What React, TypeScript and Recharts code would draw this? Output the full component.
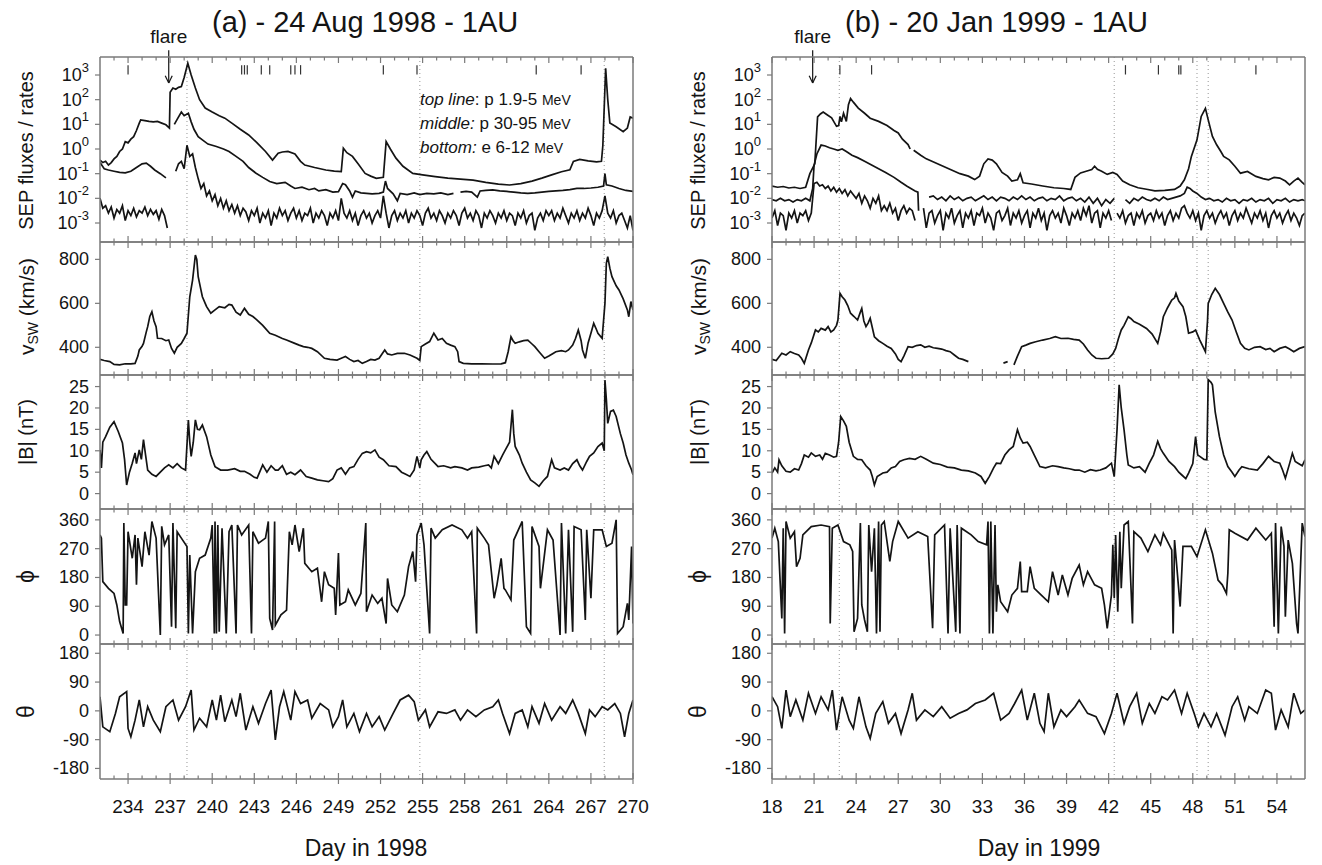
import React from "react";
import { LineChart, Line, XAxis, YAxis, ReferenceLine } from "recharts";

type Pt = [number, number | null];

// ---------- axes ----------
const dayRangeA = [232, 270];
const dayTicksA = [233, 234, 235, 236, 237, 238, 239, 240, 241, 242, 243, 244, 245, 246, 247, 248, 249, 250, 251, 252, 253, 254, 255, 256, 257, 258, 259, 260, 261, 262, 263, 264, 265, 266, 267, 268, 269, 270];
const dayRangeB = [18, 56];
const dayTicksB = [18, 19, 20, 21, 22, 23, 24, 25, 26, 27, 28, 29, 30, 31, 32, 33, 34, 35, 36, 37, 38, 39, 40, 41, 42, 43, 44, 45, 46, 47, 48, 49, 50, 51, 52, 53, 54, 55];

const sepTicks = [-3, -2, -1, 0, 1, 2, 3]; // log10 of flux
const vswTicks = [400, 600, 800];
const bTicks = [0, 5, 10, 15, 20, 25];
const phiTicks = [0, 90, 180, 270, 360];
const thetaTicks = [-180, -90, 0, 90, 180];

const sepDom = [-3.77, 3.73];
const vswDom = [274, 879];
const bDom = [-3.6, 27.7];
const phiDom = [-28, 394];
const thetaDom = [-213, 209];

// event marks, dotted lines, flare times
const shocksA = [234.0, 242.1, 242.3, 242.5, 243.5, 244.1, 245.6, 245.9, 246.3, 252.2, 254.6, 263.1, 266.3];
const shocksB = [22.84, 25.1, 43.2, 45.55, 47.0, 47.15, 52.5];
const dottedA = [238.2, 254.8, 267.95];
const dottedB = [22.8, 42.4, 48.3, 49.1];
const flareA = 236.9;
const flareB = 20.9;

// ---------- (a) 24 Aug 1998 ----------
const pTopA: Pt[] = [[232.0,-0.45],[232.2,-0.55],[232.4,-0.5],[232.6,-0.65],[232.8,-0.55],[233.0,-0.4],[233.2,-0.3],[233.4,-0.1],[233.6,0.0],[233.8,0.3],[234.0,0.25],[234.2,0.4],[234.4,0.5],[234.6,0.75],[234.8,1.05],[234.9,1.18],[235.2,1.15],[235.5,1.12],[235.8,1.1],[236.1,1.12],[236.4,1.05],[236.7,0.98],[236.95,0.85],[237.0,2.3],[237.2,2.47],[237.4,2.42],[237.6,2.5],[237.8,2.53],[238.0,2.9],[238.26,3.48],[238.5,3.0],[238.8,2.47],[239.1,2.0],[239.5,1.66],[240.0,1.5],[240.5,1.35],[240.9,1.25],[241.4,1.05],[242.0,0.8],[242.6,0.57],[243.2,0.25],[243.8,-0.1],[244.3,-0.45],[244.7,-0.17],[245.0,-0.12],[245.4,-0.1],[245.9,-0.2],[246.3,-0.5],[246.6,-0.65],[247.3,-0.75],[248.1,-0.85],[248.7,-0.9],[249.2,-0.92],[249.35,0.03],[249.6,-0.15],[250.0,-0.3],[250.4,-0.6],[250.9,-0.99],[251.3,-1.1],[251.7,-1.19],[252.2,-1.15],[252.4,0.3],[252.7,0.0],[253.1,-0.37],[253.6,-0.7],[254.3,-0.99],[255.0,-1.05],[255.9,-1.12],[256.8,-1.18],[257.7,-1.22],[258.6,-1.26],[259.5,-1.35],[260.4,-1.42],[261.2,-1.46],[262.0,-1.4],[262.8,-1.3],[263.5,-1.18],[264.2,-1.05],[264.9,-0.92],[265.5,-0.84],[265.75,-0.5],[266.2,-0.42],[266.8,-0.48],[267.4,-0.52],[267.75,-0.5],[267.85,0.14],[268.05,3.27],[268.2,2.0],[268.35,1.05],[268.8,0.9],[269.3,0.7],[269.6,0.85],[269.8,1.3],[270.0,1.25]];

const pMidA: Pt[] = [[232.0,-0.55],[232.3,-0.8],[232.6,-0.85],[233.0,-0.9],[233.4,-0.95],[233.8,-0.97],[234.2,-0.9],[234.6,-0.75],[235.0,-0.6],[235.3,-0.57],[235.6,-0.7],[235.9,-0.85],[236.3,-1.0],[236.7,-1.17],[236.8,null],[237.3,1.0],[237.5,1.2],[237.8,1.5],[238.0,1.35],[238.3,1.45],[238.5,1.1],[238.7,0.8],[239.0,0.5],[239.3,0.37],[239.7,0.2],[240.3,0.1],[240.8,0.0],[241.2,-0.1],[241.7,-0.3],[242.2,-0.5],[242.6,-0.75],[243.1,-0.97],[243.6,-1.15],[244.1,-1.32],[244.6,-1.4],[245.2,-1.35],[245.6,-1.5],[245.9,-1.6],[246.4,-1.55],[246.9,-1.65],[247.3,-1.6],[247.6,-1.7],[248.1,-1.65],[248.6,-1.75],[249.0,-1.73],[249.3,-1.4],[249.5,-1.45],[249.8,-1.7],[250.0,-1.95],[250.2,-1.7],[250.6,-1.78],[251.0,-1.8],[251.4,-1.82],[251.9,-1.8],[252.2,-1.75],[252.35,-1.3],[252.5,-1.6],[252.9,-1.82],[253.2,-2.1],[253.4,-1.8],[253.9,-1.85],[254.4,-1.78],[254.8,-1.85],[255.3,-1.8],[255.8,-1.82],[256.3,-1.78],[256.8,-1.85],[257.2,-1.8],[257.4,null],[257.7,-1.75],[258.1,-1.72],[258.5,-1.75],[258.9,-1.95],[259.1,-1.7],[259.5,-1.68],[260.0,-1.66],[260.5,-1.7],[261.0,-1.72],[261.5,-1.75],[262.0,-1.78],[262.5,-1.8],[263.0,-1.78],[263.5,-1.75],[264.0,-1.72],[264.5,-1.7],[265.0,-1.68],[265.5,-1.65],[266.0,-1.6],[266.5,-1.6],[267.0,-1.58],[267.5,-1.55],[267.9,-1.5],[268.0,-1.0],[268.1,-1.45],[268.5,-1.5],[269.0,-1.6],[269.5,-1.68],[270.0,-1.72]];

// e 6-12 MeV, one reading every 0.2 day from day 232.0
const eA_t0 = 232;
const eA_dt = 0.2;
const eA: (number | null)[] = [
  -2.0,-2.4,-2.3,-2.6,-2.35,-2.8,-2.45,-2.6,-2.3,-2.9,
  -2.5,-2.7,-2.4,-2.75,-2.5,-2.6,-2.35,-2.7,-2.45,-2.65,
  -2.5,-2.85,-2.45,-2.7,-3.2,null,null,-0.9,-0.6,-0.5,
  -0.8,0.15,-0.3,-0.2,-0.75,-1.2,-1.6,-1.4,-1.9,-1.7,
  -2.1,-1.85,-2.3,-2.0,-2.4,-2.1,-2.5,-2.25,-2.6,-2.3,
  -2.7,-2.4,-2.55,-2.9,-2.5,-2.7,-2.4,-3.0,-2.6,-2.8,
  -2.5,-3.1,-2.6,-2.8,-2.4,-2.7,-2.5,-2.9,-2.6,-2.4,
  -2.8,-2.5,-2.9,-2.6,-2.7,-2.4,-3.0,-2.6,-2.8,-2.5,
  -2.7,-3.1,-2.6,-2.8,-2.5,-2.9,-2.0,-2.6,-2.8,-2.5,
  -2.9,-2.6,-3.1,-2.7,-2.5,-2.8,-2.6,-3.0,-2.7,-2.5,
  -2.8,-1.9,-2.6,-3.2,-2.7,-2.5,-2.9,-2.6,-2.8,-2.5,
  -3.0,-2.6,-2.8,-2.5,-2.7,-3.1,-2.6,-2.4,-2.8,-2.6,
  -2.9,-2.5,-2.7,-3.0,-2.6,-2.8,-2.5,-2.7,-3.1,-2.6,
  -2.4,-2.8,-2.6,-2.9,-2.5,-2.7,-3.2,-2.6,-2.8,-2.5,
  -2.7,-3.0,-2.6,-2.8,-2.5,-2.9,-2.6,-2.7,-3.1,-2.6,
  -2.8,-2.5,-3.0,-2.7,-2.6,-3.3,-2.8,-2.6,-2.9,-2.5,
  -2.7,-2.5,-2.9,-2.6,-2.8,-2.4,-2.7,-3.0,-2.6,-2.8,
  -2.5,-2.9,-2.6,-2.8,-2.4,-2.7,-3.1,-2.6,-2.8,-2.5,
  -1.9,-2.6,-2.8,-2.5,-3.0,-2.7,-2.6,-2.9,-3.2,-2.7,
  -3.3,
];

const vswA: Pt[] = [[232.0,345],[232.3,340],[232.7,335],[233.0,322],[233.4,320],[233.8,325],[234.2,325],[234.5,327],[234.7,360],[234.8,388],[235.0,405],[235.1,418],[235.3,470],[235.4,494],[235.55,540],[235.7,562],[235.85,520],[236.0,494],[236.1,441],[236.4,440],[236.7,430],[236.9,433],[237.1,395],[237.3,373],[237.5,400],[237.8,418],[238.0,440],[238.2,464],[238.4,630],[238.6,706],[238.8,820],[238.9,800],[239.0,721],[239.2,660],[239.3,630],[239.5,600],[239.6,585],[239.9,555],[240.2,570],[240.5,585],[240.9,580],[241.2,595],[241.4,592],[241.7,560],[242.0,547],[242.3,577],[242.6,550],[242.9,540],[243.2,524],[243.6,500],[244.1,464],[244.5,455],[245.0,440],[245.3,433],[245.8,420],[246.2,410],[246.5,403],[246.8,400],[247.1,395],[247.5,380],[248.0,350],[248.4,345],[248.9,342],[249.2,350],[249.5,358],[249.8,345],[250.1,335],[250.4,340],[250.7,327],[251.0,335],[251.3,345],[251.6,342],[251.9,350],[252.3,388],[252.5,370],[252.8,365],[253.2,372],[253.7,373],[254.1,365],[254.6,350],[254.8,340],[254.9,403],[255.2,415],[255.5,426],[255.8,464],[256.1,433],[256.4,440],[256.7,418],[257.0,410],[257.3,403],[257.5,380],[257.6,335],[257.9,327],[258.5,325],[259.2,325],[260.0,324],[260.6,325],[260.9,330],[261.1,380],[261.3,448],[261.45,430],[261.6,418],[261.9,425],[262.2,430],[262.5,433],[262.8,415],[263.0,403],[263.3,380],[263.7,350],[264.0,360],[264.3,372],[264.5,380],[264.9,385],[265.2,380],[265.4,388],[265.7,410],[265.9,440],[266.1,479],[266.3,430],[266.4,388],[266.6,350],[266.8,420],[267.0,464],[267.2,509],[267.4,480],[267.5,464],[267.8,441],[268.0,600],[268.1,782],[268.2,812],[268.35,760],[268.5,721],[268.8,680],[269.0,661],[269.3,620],[269.6,570],[269.7,539],[269.85,608],[270.0,570]];

const bA: Pt[] = [[232.0,10.2],[232.1,6.0],[232.2,12.0],[232.4,13.3],[232.7,15.5],[233.0,16.8],[233.3,14.5],[233.6,11.8],[233.75,8.0],[233.9,2.0],[234.1,5.0],[234.3,7.1],[234.5,9.5],[234.6,7.0],[234.8,10.2],[234.95,8.0],[235.1,12.6],[235.25,9.0],[235.4,5.5],[235.7,4.5],[236.0,4.0],[236.3,5.0],[236.6,6.0],[236.9,6.7],[237.2,6.0],[237.5,7.0],[237.8,6.0],[238.1,5.5],[238.3,17.2],[238.4,12.0],[238.5,8.7],[238.65,12.0],[238.8,17.2],[238.95,15.0],[239.1,14.9],[239.3,16.0],[239.6,13.3],[239.9,9.0],[240.2,6.3],[240.6,5.5],[241.1,5.5],[241.6,5.8],[242.0,5.2],[242.3,5.2],[242.7,4.5],[243.0,3.8],[243.2,3.6],[243.6,6.7],[243.9,5.0],[244.2,6.5],[244.5,5.5],[244.7,5.5],[245.0,6.5],[245.3,4.5],[245.6,5.0],[245.9,4.4],[246.3,5.5],[246.7,4.0],[247.1,3.6],[247.5,3.2],[247.9,3.0],[248.3,2.8],[248.6,3.5],[248.9,5.5],[249.2,6.0],[249.5,4.5],[249.8,6.0],[250.1,6.3],[250.4,8.0],[250.7,9.4],[251.0,9.8],[251.3,9.5],[251.6,10.2],[251.9,8.5],[252.2,7.9],[252.6,6.5],[253.1,6.3],[253.5,5.0],[253.8,4.5],[254.1,4.0],[254.4,5.5],[254.6,8.7],[254.8,6.0],[254.9,7.9],[255.1,9.0],[255.3,9.8],[255.6,8.0],[255.9,7.0],[256.1,6.3],[256.5,6.5],[257.0,6.0],[257.3,6.3],[257.8,6.0],[258.2,5.5],[258.5,6.0],[259.0,6.2],[259.4,6.5],[259.7,6.7],[259.9,6.0],[260.1,8.7],[260.4,7.0],[260.7,9.0],[260.9,10.2],[261.2,12.0],[261.4,19.6],[261.5,14.0],[261.6,11.0],[261.9,9.0],[262.1,7.1],[262.4,5.0],[262.7,3.2],[263.0,2.5],[263.3,1.7],[263.6,3.0],[263.9,4.0],[264.2,7.9],[264.4,6.0],[264.8,5.5],[265.1,6.0],[265.4,5.5],[265.7,7.0],[266.0,7.9],[266.2,6.5],[266.4,5.5],[266.7,7.5],[266.9,8.7],[267.2,9.5],[267.5,11.0],[267.8,11.8],[267.95,10.0],[268.0,26.5],[268.1,22.0],[268.2,16.4],[268.4,19.2],[268.6,19.5],[268.8,18.0],[269.1,14.0],[269.3,11.8],[269.5,9.0],[269.7,7.1],[269.9,5.5],[270.0,4.4]];

const phiA: Pt[] = [[232.0,313],[232.1,303],[232.2,167],[232.6,146],[233.0,130],[233.2,94],[233.4,42],[233.65,5],[233.7,350],[233.8,94],[233.9,94],[234.0,323],[234.3,240],[234.5,313],[234.6,157],[234.7,303],[235.0,214],[235.2,323],[235.5,250],[235.7,355],[236.0,303],[236.3,0],[236.4,340],[236.6,282],[236.9,313],[237.1,26],[237.2,350],[237.4,21],[237.5,323],[237.8,303],[238.2,277],[238.3,5],[238.4,250],[238.6,5],[238.8,198],[239.1,240],[239.5,250],[239.9,303],[240.0,344],[240.15,5],[240.2,355],[240.3,5],[240.4,344],[240.5,10],[240.7,334],[241.0,5],[241.2,323],[241.4,344],[241.7,5],[241.8,344],[242.1,313],[242.6,344],[242.8,5],[242.9,323],[243.3,287],[243.8,303],[244.0,355],[244.1,52],[244.3,16],[244.45,355],[244.5,31],[244.9,63],[245.3,78],[245.5,323],[245.7,282],[245.9,344],[246.2,261],[246.5,334],[246.6,224],[247.1,198],[247.5,209],[247.8,104],[248.0,198],[248.3,157],[248.7,146],[248.8,63],[249.0,256],[249.1,94],[249.5,104],[249.7,141],[250.2,94],[250.6,130],[250.95,350],[251.0,73],[251.4,125],[251.8,99],[252.1,115],[252.4,36],[252.5,177],[252.8,94],[253.2,73],[253.7,125],[254.0,214],[254.3,261],[254.5,167],[254.6,313],[254.9,350],[255.1,282],[255.5,5],[255.6,334],[255.9,303],[256.4,329],[257.1,344],[257.8,329],[258.2,303],[258.5,323],[258.85,5],[258.9,334],[259.4,303],[259.7,282],[260.1,115],[260.3,157],[260.6,240],[260.8,146],[260.9,141],[261.3,110],[261.5,297],[262.1,355],[262.4,26],[262.7,5],[262.8,339],[263.3,277],[263.4,146],[263.9,329],[264.3,297],[264.8,0],[264.9,350],[265.2,5],[265.4,329],[265.7,10],[265.8,339],[266.3,329],[266.6,47],[266.7,329],[267.0,115],[267.2,329],[267.8,329],[268.1,277],[268.5,287],[268.8,360],[268.9,5],[269.3,26],[269.6,99],[269.7,47],[269.9,277],[270.0,36]];

const thetaA: Pt[] = [[232.0,44],[232.2,-50],[232.7,-65],[233.1,-8],[233.4,44],[233.9,60],[234.0,-55],[234.2,-81],[234.5,-29],[234.8,34],[235.1,-50],[235.4,13],[235.8,-29],[236.3,-65],[236.7,13],[237.2,34],[237.6,-29],[238.1,13],[238.5,65],[238.7,-60],[239.1,-23],[239.6,-50],[240.0,34],[240.3,-29],[240.6,49],[240.9,-34],[241.4,34],[241.7,-18],[242.0,55],[242.4,-60],[242.9,13],[243.3,-39],[243.8,23],[244.2,65],[244.5,-91],[244.8,13],[245.1,60],[245.6,-29],[245.9,60],[246.3,23],[246.8,34],[247.1,-23],[247.7,23],[248.3,3],[248.6,-50],[249.0,-18],[249.3,34],[249.6,-50],[250.1,-8],[250.5,-65],[251.0,-8],[251.4,-50],[251.9,-18],[252.3,-60],[252.9,-8],[253.4,34],[254.0,49],[254.4,29],[254.7,-29],[255.2,3],[255.5,-50],[256.1,-3],[256.7,-8],[257.3,3],[257.7,-29],[258.2,3],[258.8,-18],[259.4,3],[260.0,13],[260.4,34],[260.7,-8],[261.2,-71],[261.6,-8],[262.1,3],[262.5,-50],[262.8,13],[263.3,-39],[263.7,23],[264.2,-29],[264.8,13],[265.2,-8],[265.7,34],[266.1,-8],[266.6,-71],[266.9,3],[267.3,-18],[267.8,13],[268.2,3],[268.7,23],[269.1,-8],[269.4,-81],[269.7,-8],[270.0,34]];

// ---------- (b) 20 Jan 1999 ----------
const pTopB: Pt[] = [[18.0,-1.5],[18.4,-1.55],[18.8,-1.52],[19.2,-1.58],[19.6,-1.55],[20.0,-1.6],[20.4,-1.55],[20.7,-1.0],[21.05,-0.6],[21.25,1.3],[21.45,1.42],[21.65,1.5],[21.9,1.4],[22.25,1.26],[22.6,0.92],[22.75,0.95],[22.85,1.32],[22.95,1.1],[23.1,1.45],[23.3,1.12],[23.45,1.8],[23.6,2.05],[23.8,1.9],[24.15,1.66],[24.6,1.45],[25.0,1.25],[25.6,1.12],[26.2,0.95],[26.7,0.75],[27.0,0.65],[27.3,0.4],[27.7,0.18],[27.85,0.0],[27.95,null],[28.1,-0.05],[28.6,-0.25],[29.0,-0.4],[29.4,-0.5],[30.0,-0.65],[30.8,-0.85],[31.4,-1.0],[32.0,-1.1],[32.45,-1.24],[32.8,-1.1],[33.1,-0.6],[33.4,-0.4],[33.7,-0.45],[34.0,-0.6],[34.4,-0.95],[34.8,-1.1],[35.1,-1.3],[35.5,-1.25],[35.7,-1.0],[35.9,-1.37],[36.5,-1.42],[37.3,-1.5],[38.1,-1.57],[38.8,-1.6],[39.3,-1.64],[39.6,-1.15],[40.0,-0.97],[40.4,-0.9],[40.8,-0.83],[41.0,-0.7],[41.2,-0.82],[41.5,-0.9],[41.9,-1.03],[42.3,-0.95],[42.6,-1.03],[43.0,-1.3],[43.5,-1.45],[44.1,-1.57],[44.7,-1.63],[45.3,-1.7],[46.0,-1.68],[46.7,-1.64],[47.1,-1.5],[47.4,-1.25],[47.7,-0.8],[47.9,-0.3],[48.3,0.37],[48.6,1.32],[48.9,1.65],[49.1,1.18],[49.4,0.51],[49.7,0.17],[50.0,-0.1],[50.2,-0.3],[50.6,-0.44],[51.0,-0.7],[51.4,-0.98],[51.9,-0.91],[52.5,-1.11],[53.0,-1.2],[53.4,-1.25],[53.8,-1.15],[54.2,-1.18],[54.6,-1.3],[54.9,-1.45],[55.2,-1.3],[55.5,-1.18],[55.8,-1.35],[56.0,-1.45]];

const pMidB: Pt[] = [[18.0,-2.05],[18.3,-2.1],[18.6,-2.0],[18.9,-2.1],[19.2,-2.05],[19.5,-2.15],[19.8,-2.05],[20.1,-2.1],[20.4,-2.0],[20.7,-2.1],[20.9,-1.6],[21.0,-0.65],[21.2,-0.2],[21.5,0.16],[21.8,0.12],[22.1,0.05],[22.4,0.0],[22.7,-0.05],[23.0,0.0],[23.3,-0.1],[23.7,-0.25],[24.1,-0.35],[24.6,-0.5],[25.1,-0.65],[25.6,-0.8],[26.1,-0.95],[26.7,-1.15],[27.2,-1.35],[27.6,-1.5],[27.9,-1.6],[28.2,-1.7],[28.4,-1.75],[28.45,-2.5],[28.5,null],[29.2,-1.95],[29.5,-1.9],[29.8,-2.05],[30.1,-1.95],[30.4,-2.1],[30.7,-1.9],[31.0,-2.05],[31.3,-1.95],[31.6,-2.1],[31.9,-2.0],[32.2,-1.95],[32.5,-2.1],[32.8,-2.0],[33.1,-1.9],[33.4,-2.05],[33.7,-1.95],[34.0,-2.1],[34.3,-1.95],[34.6,-2.0],[34.9,-2.1],[35.2,-1.95],[35.5,-2.05],[35.8,-1.9],[36.1,-2.05],[36.4,-1.95],[36.7,-2.1],[37.0,-2.0],[37.3,-1.95],[37.6,-2.1],[37.9,-2.0],[38.2,-2.05],[38.5,-1.9],[38.8,-2.1],[39.1,-2.0],[39.4,-1.95],[39.7,-2.1],[40.0,-2.0],[40.3,-2.15],[40.6,-1.95],[40.9,-2.2],[41.2,-2.0],[41.5,-2.3],[41.8,-2.05],[42.1,-2.2],[42.4,-2.0],[42.6,null],[43.2,-2.05],[43.5,-2.2],[43.8,-2.0],[44.1,-2.1],[44.4,-1.95],[44.7,-2.05],[45.0,-2.1],[45.3,-2.0],[45.6,-2.1],[45.9,-1.95],[46.2,-2.05],[46.5,-2.0],[46.8,-1.95],[47.1,-1.9],[47.4,-1.8],[47.6,-1.55],[47.8,-1.6],[48.0,-1.7],[48.3,-1.8],[48.6,-1.95],[48.9,-2.05],[49.2,-2.0],[49.5,-2.1],[49.8,-2.05],[50.1,-2.15],[50.4,-2.0],[50.7,-2.1],[51.0,-2.05],[51.3,-2.2],[51.6,-2.05],[51.9,-2.1],[52.2,-2.0],[52.5,-2.15],[52.8,-2.05],[53.1,-2.1],[53.4,-2.0],[53.7,-2.2],[54.0,-2.05],[54.3,-2.1],[54.6,-2.0],[54.9,-2.15],[55.2,-2.05],[55.5,-2.1],[55.8,-2.05],[56.0,-2.1]];

// e 6-12 MeV, one reading every 0.2 day from day 18.0
const eB_t0 = 18;
const eB_dt = 0.2;
const eB: (number | null)[] = [
  -2.8,-2.5,-3.1,-2.6,-2.7,-3.3,-2.6,-2.8,-2.5,-3.0,
  -2.6,-2.7,-2.5,-2.9,-2.6,-1.4,-1.35,-1.5,-1.45,-1.6,
  -1.5,-1.7,-1.55,-1.75,-1.6,-1.8,-1.65,-1.9,-1.7,-1.85,
  -2.0,-1.8,-2.2,-1.9,-2.1,-2.4,-2.0,-2.2,-1.9,-2.5,
  -2.3,-2.5,-2.2,-2.6,-2.4,-2.9,-2.5,-2.3,-2.6,-2.4,
  -2.5,-2.9,null,null,-2.4,-3.2,-2.6,-2.5,-3.0,-2.7,
  -2.5,-3.3,-2.6,-2.8,-2.4,-3.0,-2.7,-2.5,-3.2,-2.6,
  -2.8,-2.5,-3.1,-2.6,-2.7,-2.4,-3.0,-2.6,-2.8,-3.3,
  -2.6,-2.5,-2.9,-2.7,-2.4,-3.1,-2.6,-2.8,-2.5,-3.0,
  -2.7,-2.5,-3.2,-2.6,-2.8,-2.4,-2.9,-2.6,-3.3,-2.7,
  -2.5,-2.8,-2.6,-3.0,-2.4,-2.7,-3.1,-2.6,-2.8,-2.5,
  -2.9,-2.4,-2.7,-2.3,-3.0,-2.6,-2.5,-3.2,-2.6,-2.8,
  -2.5,-2.9,null,-2.6,-2.8,-2.5,-3.0,-2.7,-2.6,-3.1,
  -2.6,-2.8,-2.5,-3.0,-2.7,-2.6,-2.9,-2.5,-2.8,-2.6,
  -3.1,-2.7,-2.5,-2.9,-2.6,-2.8,-2.4,-2.3,-2.6,-2.8,
  -2.5,-2.9,-2.6,-3.3,-2.7,-2.5,-2.8,-2.6,-3.0,-2.7,
  -2.5,-2.8,-2.6,-3.1,-2.7,-2.5,-2.9,-2.6,-2.8,-2.4,
  -2.7,-3.0,-2.6,-2.8,-2.5,-2.9,-2.6,-3.2,-2.7,-2.5,
  -2.8,-2.6,-3.0,-2.7,-2.5,-2.9,-2.6,-2.8,-3.1,-2.7,
  -2.6,
];

const vswB: Pt[] = [[18.0,345],[18.3,340],[18.7,373],[19.0,365],[19.3,380],[19.6,372],[19.9,365],[20.1,350],[20.3,327],[20.6,388],[20.8,420],[21.1,479],[21.3,470],[21.5,486],[21.8,478],[22.0,494],[22.2,470],[22.4,479],[22.6,500],[22.7,524],[22.85,645],[23.0,630],[23.2,615],[23.4,590],[23.6,555],[23.85,540],[24.1,524],[24.3,560],[24.4,577],[24.55,520],[24.7,494],[24.85,510],[25.0,532],[25.15,490],[25.3,448],[25.6,430],[25.9,418],[26.2,405],[26.5,395],[26.8,370],[27.0,345],[27.2,335],[27.4,360],[27.7,403],[28.0,400],[28.3,408],[28.6,411],[28.9,400],[29.2,405],[29.5,398],[29.8,395],[30.1,392],[30.4,385],[30.7,380],[31.0,365],[31.3,350],[31.6,345],[32.0,335],[32.05,null],[34.5,328],[34.8,335],[34.95,null],[35.25,320],[35.5,360],[35.8,403],[36.1,410],[36.4,418],[36.8,425],[37.3,433],[37.8,440],[38.2,448],[38.6,440],[39.1,441],[39.5,436],[39.9,433],[40.2,415],[40.5,388],[40.8,365],[41.1,350],[41.5,348],[42.0,350],[42.3,370],[42.5,395],[42.7,440],[42.9,479],[43.1,500],[43.4,539],[43.6,530],[43.8,517],[44.2,505],[44.7,486],[45.1,460],[45.5,418],[45.7,470],[45.9,539],[46.2,580],[46.5,615],[46.7,625],[46.8,645],[47.0,610],[47.3,585],[47.5,540],[47.7,464],[48.0,470],[48.2,479],[48.5,433],[48.9,380],[49.05,520],[49.1,600],[49.35,640],[49.6,668],[49.9,640],[50.2,600],[50.5,560],[50.8,524],[51.1,470],[51.4,418],[51.7,395],[52.0,388],[52.4,400],[52.8,403],[53.2,390],[53.5,395],[53.8,380],[54.2,395],[54.6,403],[54.9,392],[55.2,380],[55.6,395],[56.0,403]];

const bB: Pt[] = [[18.0,4.8],[18.2,6.0],[18.4,5.0],[18.5,7.9],[18.7,6.5],[19.0,5.2],[19.3,5.0],[19.6,5.8],[19.9,5.5],[20.1,7.0],[20.3,9.0],[20.6,8.5],[20.8,9.5],[21.1,8.7],[21.4,9.0],[21.6,8.0],[21.8,9.4],[22.1,9.0],[22.4,8.5],[22.6,8.7],[22.75,12.0],[22.9,18.0],[23.1,17.0],[23.3,15.7],[23.5,12.0],[23.8,8.7],[24.1,8.0],[24.4,7.9],[24.7,6.5],[25.0,5.5],[25.15,4.0],[25.3,2.0],[25.5,4.0],[25.9,4.8],[26.2,5.0],[26.5,6.0],[26.8,6.3],[27.1,7.5],[27.4,7.9],[27.8,8.2],[28.2,8.0],[28.6,8.7],[29.0,8.0],[29.5,7.1],[30.0,6.8],[30.5,6.2],[31.0,6.0],[31.5,5.5],[32.0,5.3],[32.5,4.8],[32.9,4.0],[33.2,2.4],[33.5,4.0],[33.8,6.0],[34.0,7.1],[34.3,7.0],[34.6,9.0],[34.9,10.2],[35.2,11.0],[35.5,14.9],[35.7,13.0],[35.9,11.8],[36.2,12.0],[36.4,11.0],[36.7,9.0],[37.1,6.3],[37.5,6.0],[38.0,6.5],[38.4,6.3],[38.8,6.0],[39.2,5.8],[39.6,5.5],[39.9,5.5],[40.3,5.0],[40.7,5.6],[41.1,5.3],[41.4,5.5],[41.8,6.0],[42.2,7.1],[42.4,4.0],[42.6,15.0],[42.75,25.4],[42.9,20.0],[43.1,14.9],[43.3,9.0],[43.4,6.7],[43.8,6.0],[44.2,6.3],[44.6,5.0],[44.9,7.1],[45.2,9.0],[45.5,12.2],[45.7,10.5],[45.9,9.4],[46.3,7.5],[46.7,6.3],[47.0,5.0],[47.2,4.4],[47.5,3.5],[47.7,4.8],[48.0,7.0],[48.2,13.3],[48.35,9.0],[48.5,8.7],[48.8,8.0],[49.0,7.9],[49.1,26.6],[49.3,26.0],[49.4,25.4],[49.6,19.0],[49.9,13.3],[50.2,9.0],[50.5,6.3],[50.8,5.0],[51.0,4.0],[51.3,5.5],[51.5,6.3],[52.0,5.8],[52.6,5.5],[53.0,7.0],[53.4,8.7],[53.8,7.5],[54.2,7.1],[54.4,5.5],[54.6,3.6],[54.9,7.0],[55.1,9.4],[55.3,7.5],[55.5,7.1],[55.8,6.5],[56.0,7.9]];

const phiB: Pt[] = [[18.0,303],[18.2,334],[18.45,292],[18.7,52],[18.8,334],[18.9,5],[19.0,355],[19.3,303],[19.6,323],[19.75,214],[20.0,240],[20.2,313],[20.8,339],[21.5,344],[22.1,339],[22.15,36],[22.3,334],[22.7,344],[23.1,292],[23.55,282],[23.75,261],[23.85,10],[24.1,52],[24.3,350],[24.4,94],[24.6,47],[24.8,10],[24.9,344],[25.1,198],[25.3,334],[25.45,5],[25.6,355],[25.7,10],[25.8,344],[26.0,355],[26.3,261],[26.4,230],[26.6,292],[27.0,355],[27.7,303],[28.4,323],[29.1,308],[29.45,21],[29.6,313],[30.3,344],[30.55,5],[30.7,334],[31.1,10],[31.2,344],[31.4,5],[31.5,334],[32.2,313],[32.7,292],[33.3,282],[33.4,355],[33.5,5],[33.6,355],[33.75,5],[33.9,344],[34.0,73],[34.1,157],[34.3,104],[34.8,73],[35.1,125],[35.5,146],[35.7,230],[35.8,136],[36.2,136],[36.4,214],[36.7,146],[37.2,125],[37.7,104],[38.0,198],[38.4,125],[38.7,188],[39.1,125],[39.4,177],[39.9,219],[40.2,157],[40.5,198],[41.0,157],[41.5,146],[41.7,94],[41.9,21],[42.2,125],[42.3,282],[42.4,115],[42.5,313],[42.65,73],[42.8,323],[42.9,146],[43.1,344],[43.4,355],[43.7,36],[43.8,323],[44.3,303],[44.8,261],[45.3,313],[45.7,282],[45.9,318],[46.5,266],[46.6,5],[46.7,297],[47.1,89],[47.3,277],[47.9,277],[48.3,245],[48.9,329],[49.4,256],[49.8,172],[50.1,157],[50.4,130],[50.5,193],[50.6,329],[51.0,318],[51.9,297],[52.5,334],[53.2,297],[53.6,318],[53.8,26],[53.9,350],[54.1,5],[54.3,339],[54.5,277],[54.6,57],[54.8,297],[55.1,224],[55.4,36],[55.5,5],[55.8,350],[56.0,308]];

const thetaB: Pt[] = [[18.0,44],[18.4,13],[18.7,-55],[19.0,65],[19.3,-18],[19.7,34],[20.2,-29],[20.6,55],[21.1,-8],[21.5,44],[22.0,3],[22.3,65],[22.6,-60],[23.0,44],[23.5,-29],[23.8,-55],[24.2,44],[24.7,-50],[25.0,-86],[25.4,-8],[25.9,29],[26.3,-39],[26.8,-8],[27.2,-71],[27.7,3],[28.0,55],[28.3,-29],[28.9,3],[29.5,-18],[30.1,13],[30.7,-23],[31.3,-8],[31.9,3],[32.5,23],[33.2,34],[33.8,55],[34.3,-29],[34.9,-8],[35.3,23],[35.8,65],[36.2,-29],[36.7,55],[37.1,-39],[37.4,-65],[37.7,55],[38.1,-50],[38.6,3],[39.0,-18],[39.6,13],[39.9,34],[40.5,-8],[41.1,-18],[41.7,-71],[42.2,-8],[42.6,55],[43.1,-39],[43.5,13],[44.0,55],[44.4,-39],[44.9,23],[45.3,-8],[45.8,44],[46.2,34],[46.7,65],[47.2,-8],[47.6,55],[48.1,-8],[48.4,-50],[48.8,-8],[49.3,-50],[49.7,-8],[50.3,-76],[50.8,13],[51.2,44],[51.7,-29],[52.0,13],[52.6,-8],[53.2,65],[53.6,55],[53.9,-60],[54.3,3],[54.8,-50],[55.2,55],[55.7,-8],[56.0,3]];

// ---------- drawing ----------
const INK = "#141414";
const FRAME = "#7a7a7a";
const FONT = "'Liberation Sans', Arial, Helvetica, sans-serif";
const Y_W = 100;
const PLOT_W = 533;
const RIGHT_M = 20;
const CHART_W = Y_W + PLOT_W + RIGHT_M;
const TICK_FS = 18;
const frameLine = { stroke: FRAME, strokeWidth: 1.5 };

const pairs = (a: Pt[]) => a.map(([d, v]) => ({ d, v }));
const stepped = (t0: number, dt: number, vals: (number | null)[]) => vals.map((v, i) => ({ d: t0 + i * dt, v }));

const numTick = (p: any) => (
  <text x={p.x} y={p.y} textAnchor="end" dominantBaseline="central" fontSize={TICK_FS} fill={INK} fontFamily={FONT}>
    {p.payload.value}
  </text>
);
const logTick = (p: any) => (
  <text x={p.x} y={p.y} textAnchor="end" dominantBaseline="central" fontSize={TICK_FS} fill={INK} fontFamily={FONT}>
    10<tspan fontSize={13} dy={-8}>{p.payload.value}</tspan>
  </text>
);

const rotText = (cx: number, cy: number, size: number, body: React.ReactNode) => (
  <text x={cx} y={cy} transform={`rotate(-90 ${cx} ${cy})`} textAnchor="middle" dominantBaseline="central" fontSize={size} fill={INK} fontFamily={FONT}>
    {body}
  </text>
);

type LabelFn = (cx: number, cy: number) => React.ReactElement;
const sepLabel: LabelFn = (cx, cy) => rotText(cx, cy, 20, "SEP fluxes / rates");
const vswLabel: LabelFn = (cx, cy) =>
  rotText(cx, cy, 21, [
    <tspan key="v">v</tspan>,
    <tspan key="s" fontSize={14} dy={7}>SW</tspan>,
    <tspan key="u" dy={-7}>{"  (km/s)"}</tspan>,
  ]);
const bLabel: LabelFn = (cx, cy) => rotText(cx, cy, 20, "|B|  (nT)");
const phiLabel: LabelFn = (cx, cy) => rotText(cx, cy, 23, "ϕ");
const thetaLabel: LabelFn = (cx, cy) => rotText(cx, cy, 23, "θ");

type Series = { d: number; v: number | null }[];

type PanelProps = {
  left: number;
  top: number;
  plotH: number;
  padTop?: number;
  xDom: number[];
  xTicks: number[];
  base: number;
  yDom: number[];
  yTicks: number[];
  yTick: (p: any) => React.ReactElement;
  label: LabelFn;
  labelDx: number;
  labelDy: number;
  series: Series[];
  dotted: number[];
  extras?: React.ReactNode[];
  last?: boolean;
};

function Panel(p: PanelProps) {
  const padTop = p.padTop || 0;
  const padBottom = p.last ? 60 : 0;
  const bottomTick = (t: any) => {
    const v = t.payload.value;
    const major = (v - p.base) % 3 === 0;
    return (
      <g>
        <line x1={t.x} x2={t.x} y1={t.y} y2={t.y - (major ? 6 : 3.5)} stroke={FRAME} strokeWidth={1.2} />
        {p.last && major && <line x1={t.x} x2={t.x} y1={t.y} y2={t.y + 5} stroke={FRAME} strokeWidth={1.2} />}
        {p.last && major && (
          <text x={t.x} y={t.y + 27} textAnchor="middle" dominantBaseline="central" fontSize={19} fill={INK} fontFamily={FONT}>
            {v}
          </text>
        )}
      </g>
    );
  };
  const topTick = (t: any) => {
    const major = (t.payload.value - p.base) % 3 === 0;
    return <line x1={t.x} x2={t.x} y1={t.y} y2={t.y + (major ? 6 : 3.5)} stroke={FRAME} strokeWidth={1.2} />;
  };
  return (
    <div style={{ position: "absolute", left: p.left, top: p.top - padTop }}>
      <LineChart width={CHART_W} height={p.plotH + padTop + padBottom} margin={{ top: padTop, right: RIGHT_M, bottom: padBottom, left: 0 }}>
        <XAxis xAxisId="x" type="number" dataKey="d" domain={p.xDom} allowDataOverflow ticks={p.xTicks} interval={0}
          orientation="bottom" mirror height={0.01} tickSize={0} tickMargin={0} tickLine={false}
          axisLine={frameLine} tick={bottomTick} />
        <XAxis xAxisId="xt" type="number" dataKey="d" domain={p.xDom} allowDataOverflow ticks={p.xTicks} interval={0}
          orientation="top" mirror height={0.01} tickSize={0} tickMargin={0} tickLine={false}
          axisLine={frameLine} tick={topTick} />
        <YAxis yAxisId="y" type="number" domain={p.yDom} allowDataOverflow ticks={p.yTicks} interval={0} width={Y_W}
          tickSize={5} tickMargin={6} axisLine={frameLine} tickLine={{ stroke: FRAME, strokeWidth: 1.2 }} tick={p.yTick}
          label={{
            content: (lp: any) => {
              const vb = lp && lp.viewBox ? lp.viewBox : { x: 0, y: padTop, width: Y_W, height: p.plotH };
              return p.label((vb.x || 0) + p.labelDx, vb.y + vb.height / 2 + p.labelDy);
            },
          }} />
        <YAxis yAxisId="yr" type="number" orientation="right" mirror width={0.01} domain={p.yDom} allowDataOverflow
          tick={false} tickLine={false} axisLine={frameLine} />
        {p.dotted.map((d) => (
          <ReferenceLine key={`dot-${d}`} xAxisId="x" yAxisId="y" x={d} stroke="#a8a8a8" strokeWidth={1.2} strokeDasharray="1 3" />
        ))}
        {p.extras}
        {p.series.map((s, i) => (
          <Line key={i} xAxisId="x" yAxisId="y" data={s} dataKey="v" type="linear" stroke={INK} strokeWidth={1.7}
            dot={false} activeDot={false} connectNulls={false} isAnimationActive={false} />
        ))}
      </LineChart>
    </div>
  );
}

const sepExtras = (shocks: number[], flare: number) => [
  ...shocks.map((d) => (
    <ReferenceLine key={`sh-${d}`} xAxisId="x" yAxisId="y" segment={[{ x: d, y: 3.02 }, { x: d, y: 3.4 }]} stroke="#333" strokeWidth={1.2} />
  )),
  <ReferenceLine key="fl" xAxisId="x" yAxisId="y" segment={[{ x: flare, y: 4.0 }, { x: flare, y: 2.68 }]} ifOverflow="visible"
    stroke={INK} strokeWidth={1.2}
    label={{ value: "flare", position: "top", offset: 7, fontSize: 19, fill: INK, fontFamily: FONT }} />,
  <ReferenceLine key="fl-l" xAxisId="x" yAxisId="y" segment={[{ x: flare - 0.25, y: 2.97 }, { x: flare, y: 2.68 }]} ifOverflow="visible" stroke={INK} strokeWidth={1.2} />,
  <ReferenceLine key="fl-r" xAxisId="x" yAxisId="y" segment={[{ x: flare + 0.25, y: 2.97 }, { x: flare, y: 2.68 }]} ifOverflow="visible" stroke={INK} strokeWidth={1.2} />,
];

type ColumnProps = {
  left: number;
  xDom: number[];
  xTicks: number[];
  base: number;
  sep: Series[];
  vsw: Series;
  bmag: Series;
  phi: Series;
  theta: Series;
  shocks: number[];
  dotted: number[];
  flare: number;
};

function Column(c: ColumnProps) {
  const common = { left: c.left, xDom: c.xDom, xTicks: c.xTicks, base: c.base, dotted: c.dotted, labelDx: 26 };
  return (
    <>
      <Panel {...common} top={57} plotH={185} padTop={57} yDom={sepDom} yTicks={sepTicks} yTick={logTick}
        label={sepLabel} labelDy={1} series={c.sep} extras={sepExtras(c.shocks, c.flare)} />
      <Panel {...common} top={242} plotH={133} yDom={vswDom} yTicks={vswTicks} yTick={numTick}
        label={vswLabel} labelDy={-2} series={[c.vsw]} />
      <Panel {...common} top={375} plotH={134} yDom={bDom} yTicks={bTicks} yTick={numTick}
        label={bLabel} labelDy={-10} series={[c.bmag]} />
      <Panel {...common} top={509} plotH={135} yDom={phiDom} yTicks={phiTicks} yTick={numTick}
        label={phiLabel} labelDy={0} series={[c.phi]} />
      <Panel {...common} top={644} plotH={135} yDom={thetaDom} yTicks={thetaTicks} yTick={numTick}
        label={thetaLabel} labelDy={0} series={[c.theta]} last />
    </>
  );
}

const titleStyle: React.CSSProperties = { position: "absolute", top: 8, fontSize: 29, lineHeight: "29px", whiteSpace: "nowrap" };
const xTitleStyle: React.CSSProperties = { position: "absolute", top: 835, width: 300, textAlign: "center", fontSize: 23, lineHeight: "26px" };
const small: React.CSSProperties = { fontSize: 14 };

export default function App() {
  return (
    <div style={{ position: "absolute", left: 0, top: 0, width: 1322, height: 865, background: "#fff", fontFamily: FONT, color: INK, overflow: "hidden" }}>
      <style>{".recharts-surface{overflow:visible}"}</style>
      <Column left={0} xDom={dayRangeA} xTicks={dayTicksA} base={234}
        sep={[pairs(pTopA), pairs(pMidA), stepped(eA_t0, eA_dt, eA)]}
        vsw={pairs(vswA)} bmag={pairs(bA)} phi={pairs(phiA)} theta={pairs(thetaA)}
        shocks={shocksA} dotted={dottedA} flare={flareA} />
      <Column left={672} xDom={dayRangeB} xTicks={dayTicksB} base={18}
        sep={[pairs(pTopB), pairs(pMidB), stepped(eB_t0, eB_dt, eB)]}
        vsw={pairs(vswB)} bmag={pairs(bB)} phi={pairs(phiB)} theta={pairs(thetaB)}
        shocks={shocksB} dotted={dottedB} flare={flareB} />

      <div style={{ ...titleStyle, left: 212 }}>(a) - 24 Aug 1998 - 1AU</div>
      <div style={{ ...titleStyle, left: 845 }}>(b) - 20 Jan 1999 - 1AU</div>

      <div style={{ position: "absolute", left: 420, top: 88, fontSize: 17, lineHeight: "24px", whiteSpace: "nowrap" }}>
        <div><i>top line</i>: p 1.9-5 <span style={small}>MeV</span></div>
        <div><i>middle:</i> p 30-95 <span style={small}>MeV</span></div>
        <div><i>bottom:</i> e 6-12 <span style={small}>MeV</span></div>
      </div>

      <div style={{ ...xTitleStyle, left: 366 - 150 }}>Day in 1998</div>
      <div style={{ ...xTitleStyle, left: 1039 - 150 }}>Day in 1999</div>
    </div>
  );
}
